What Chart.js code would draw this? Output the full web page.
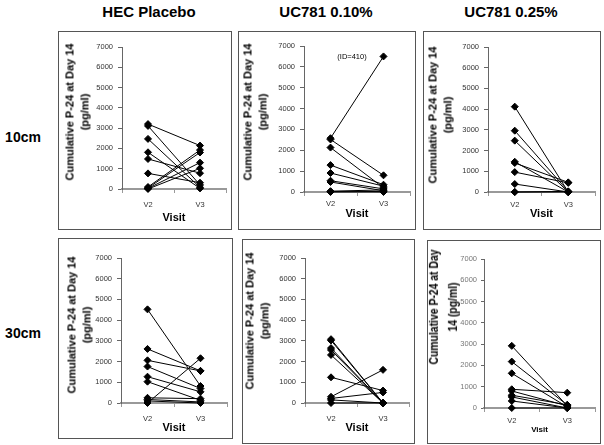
<!DOCTYPE html>
<html>
<head>
<meta charset="utf-8">
<script src="https://cdn.jsdelivr.net/npm/chart.js@4.4.0/dist/chart.umd.min.js"></script>
<style>
  body { margin: 0; width: 604px; height: 445px; position: relative; overflow: hidden; background: #fff;
         font-family: Arial, "Liberation Sans", sans-serif; color: #000; }
  .head { position: absolute; font-weight: bold; font-size: 15px; white-space: nowrap; transform: translate(-50%, -50%); }
  .row { position: absolute; font-weight: bold; font-size: 14px; white-space: nowrap; transform: translate(-50%, -50%); }
  .box { position: absolute; border: 1px solid #555; box-sizing: border-box; background: #fff; }
  .box canvas { position: absolute; left: 0; top: 0; }
  .ytitle { position: absolute; font-weight: bold; font-size: 11px; line-height: 15px; text-align: center; white-space: nowrap; }
  .note { position: absolute; font-size: 7.5px; white-space: nowrap; transform: translate(-50%, -50%); }
</style>
</head>
<body>
<div class="head" style="left:149px;top:11px">HEC Placebo</div>
<div class="head" style="left:326px;top:11px">UC781 0.10%</div>
<div class="head" style="left:511px;top:11px">UC781 0.25%</div>
<div class="row" style="left:23px;top:137px">10cm</div>
<div class="row" style="left:23px;top:333px">30cm</div>

<script>
// visits on the x axis
const visits = ['V2', 'V3'];
const yMax = 7000;
const yStep = 1000;

// cumulative P-24 at day 14 (pg/ml), one entry per subject: V2 value and V3 value
const placebo10V2 = [3200, 3110, 2470, 1810, 1480, 770, 100, 50, 30, 0];
const placebo10V3 = [2140, 200, 80, 30, 780, 310, 1920, 1800, 1300, 1020];

const uc010_10V2 = [2580, 2520, 2130, 1290, 910, 540, 480, 40, 20, 0];
const uc010_10V3 = [6500, 800, 200, 350, 280, 150, 60, 100, 0, 30];

const uc025_10V2 = [4120, 2960, 2480, 1460, 1400, 960, 385, 0, 0];
const uc025_10V3 = [0, 30, 0, 0, 465, 440, 0, 0, 30];

const placebo30V2 = [4520, 2610, 2060, 1760, 1270, 1030, 250, 170, 100, 0];
const placebo30V3 = [820, 1550, 1550, 700, 540, 130, 210, 50, 0, 2160];

const uc010_30V2 = [3080, 3020, 2650, 2560, 2320, 1240, 300, 220, 150, 0];
const uc010_30V3 = [0, 0, 0, 0, 0, 600, 1600, 510, 0, 0];

const uc025_30V2 = [2920, 2180, 1630, 880, 800, 600, 520, 330, 0];
const uc025_30V3 = [100, 140, 50, 720, 100, 150, 0, 0, 0];

const yTitle = ['Cumulative P-24 at Day 14', '(pg/ml)'];
const yTitleSmall = ['Cumulative P-24 at Day', '14 (pg/ml)'];

// panel layout: box edges, plot area edges, y title centre, "Visit" centre, label offset
const panels = [
  { v2: placebo10V2, v3: placebo10V3, box: [58, 31, 231, 229], area: [122, 47, 230, 189], tc: [77.5, 112], visitY: 218, labOff: 15 },
  { v2: uc010_10V2, v3: uc010_10V3, box: [238, 31, 415, 229], area: [304, 46, 414, 192], tc: [255.5, 112], visitY: 214, labOff: 11 },
  { v2: uc025_10V2, v3: uc025_10V3, box: [423, 31, 600, 229], area: [488, 47, 599, 192], tc: [440.5, 115], visitY: 214, labOff: 12 },
  { v2: placebo30V2, v3: placebo30V3, box: [58, 238, 232, 438], area: [121, 258, 231, 403], tc: [79.5, 325], visitY: 428, labOff: 15 },
  { v2: uc010_30V2, v3: uc010_30V3, box: [242, 239, 414, 443], area: [305, 258, 413, 403], tc: [257.5, 321], visitY: 428, labOff: 15 },
  { v2: uc025_30V2, v3: uc025_30V3, box: [427, 240, 600, 443], area: [484, 259, 599, 408], tc: [442.5, 307], visitY: 430, labOff: 12, small: true }
];

Chart.defaults.font.family = 'Arial, "Liberation Sans", sans-serif';

function makePanel(p) {
  const [l, t, r, b] = p.box;
  const box = document.createElement('div');
  box.className = 'box';
  box.style.left = l + 'px';
  box.style.top = t + 'px';
  box.style.width = (r - l + 1) + 'px';
  box.style.height = (b - t + 1) + 'px';
  const cw = r - l - 1, ch = b - t - 1;
  const canvas = document.createElement('canvas');
  canvas.width = cw; canvas.height = ch;
  canvas.style.width = cw + 'px'; canvas.style.height = ch + 'px';
  box.appendChild(canvas);
  document.body.appendChild(box);

  const ox = l + 1, oy = t + 1;
  const [al, at, ar, ab] = p.area;
  const visitSize = p.small ? 8 : 11;
  const visitLH = visitSize + 2;
  const scaleBottom = p.visitY + visitLH / 2;
  const xHeight = scaleBottom - ab;
  const yWidth = al - ox;

  // y axis title as rotated text
  const yt = document.createElement('div');
  yt.className = 'ytitle';
  yt.innerHTML = (p.small ? yTitleSmall : yTitle).join('<br>');
  if (p.small) {
    yt.style.fontSize = '13px';
    yt.style.lineHeight = '19px';
  }
  document.body.appendChild(yt);
  const w = yt.offsetWidth, h = yt.offsetHeight;
  yt.style.left = (p.tc[0] - w / 2) + 'px';
  yt.style.top = (p.tc[1] - h / 2) + 'px';
  yt.style.transform = p.small ? 'rotate(-90deg) scaleX(0.8)' : 'rotate(-90deg)';

  const datasets = p.v2.map((v, i) => ({
    data: [v, p.v3[i]],
    borderColor: '#000',
    borderWidth: 1,
    pointStyle: 'rectRot',
    pointRadius: 3.5,
    pointBackgroundColor: '#000',
    pointBorderColor: '#000',
    pointBorderWidth: 1,
    clip: false
  }));

  const tickColor = p.small ? '#777' : '#333';

  return new Chart(canvas, {
    type: 'line',
    data: { labels: visits, datasets: datasets },
    options: {
      responsive: false,
      animation: false,
      events: [],
      layout: { padding: { left: 0, top: at - oy, right: (ox + cw) - ar, bottom: (oy + ch) - scaleBottom } },
      plugins: { legend: { display: false }, tooltip: { enabled: false } },
      scales: {
        x: {
          offset: true,
          grid: { offset: true, drawOnChartArea: false, tickLength: 4, color: '#999', tickColor: '#999' },
          border: { color: '#999', width: 2 },
          ticks: { font: { size: 7.5 }, color: '#333', padding: p.labOff - 8, maxRotation: 0 },
          title: { display: true, text: 'Visit', color: '#000', padding: 0,
                   font: { size: visitSize, weight: 'bold', lineHeight: visitLH + 'px' } },
          afterFit(s) { s.height = xHeight; }
        },
        y: {
          min: 0,
          max: yMax,
          ticks: { stepSize: yStep, font: { size: 7.5 }, color: tickColor, padding: p.small ? 4 : 5,
                   callback: v => String(v) },
          grid: { drawOnChartArea: false, tickLength: p.small ? 3 : 4, color: '#666', tickColor: '#666' },
          border: { color: '#666', width: 1 },
          afterFit(s) { s.width = yWidth; }
        }
      }
    }
  });
}

panels.forEach(makePanel);

// label for the outlier subject in the UC781 0.10% / 10cm panel
const note = document.createElement('div');
note.className = 'note';
note.textContent = '(ID=410)';
note.style.left = '352px';
note.style.top = '56px';
document.body.appendChild(note);
</script>
</body>
</html>
